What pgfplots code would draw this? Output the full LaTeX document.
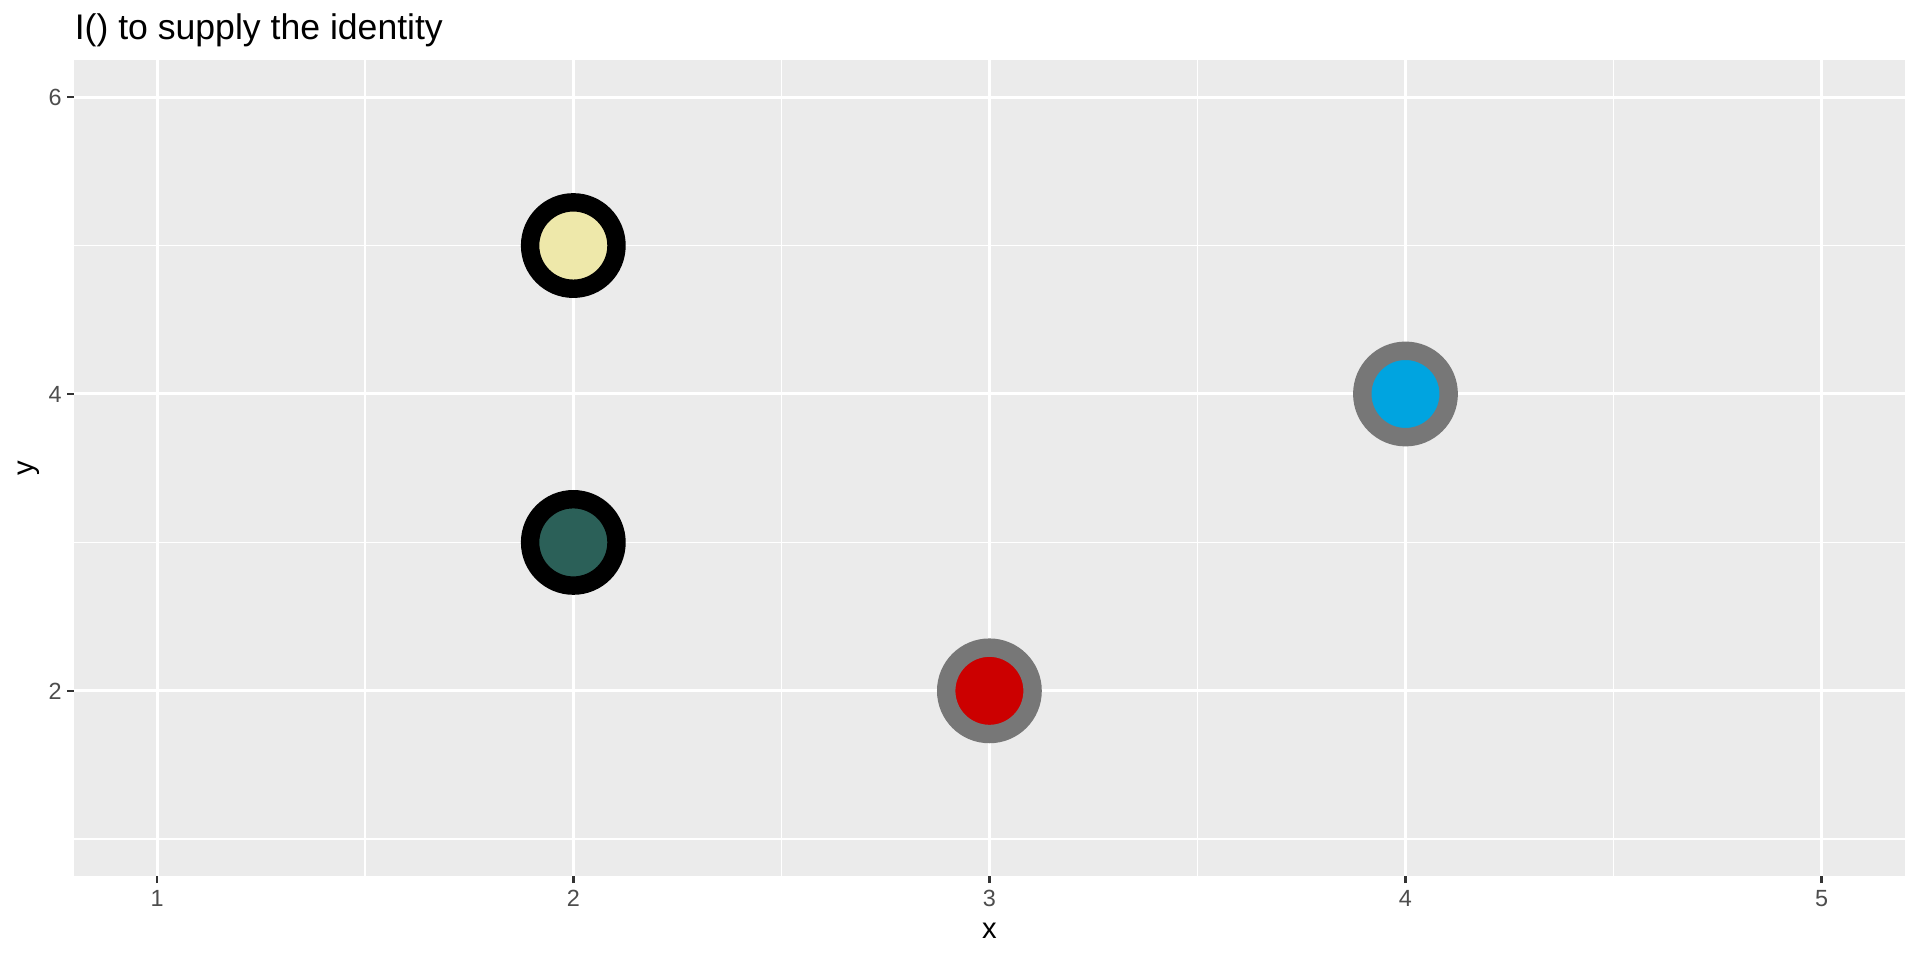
\documentclass[border=0pt]{standalone}
\usepackage{pgfplots}
\pgfplotsset{compat=1.18}
\usepackage{fontspec}
\setmainfont{Liberation Sans}
\definecolor{panelbg}{HTML}{EBEBEB}
\definecolor{ticklab}{HTML}{4D4D4D}
\definecolor{tickcol}{HTML}{333333}
\definecolor{cyellow}{HTML}{EEE8AA}
\definecolor{cteal}{HTML}{2B6058}
\definecolor{cred}{HTML}{CC0000}
\definecolor{cblue}{HTML}{00A4E0}
\definecolor{cgrey}{HTML}{777777}
\begin{document}
\begin{tikzpicture}
\useasboundingbox (0,0) rectangle (480pt,240pt);
\begin{axis}[
  at={(18.5pt,20.9pt)}, anchor=south west,
  scale only axis, width=457.7pt, height=204.1pt,
  xmin=0.8, xmax=5.2, ymin=0.75, ymax=6.25,
  axis background/.style={fill=panelbg},
  axis line style={draw=none},
  xtick={1,2,3,4,5}, xticklabels={1,2,3,4,5},
  ytick={2,4,6}, yticklabels={2,4,6},
  minor xtick={1.5,2.5,3.5,4.5}, minor ytick={1,3,5},
  xtick pos=bottom, ytick pos=left,
  tick align=outside,
  major tick length=1.7pt, minor tick length=0pt,
  tick style={color=tickcol, line width=0.6pt},
  grid=both,
  major grid style={white, line width=0.75pt},
  minor grid style={white, line width=0.4pt},
  tick label style={font=\fontsize{5.85pt}{7pt}\selectfont, text=ticklab},
  xticklabel style={inner sep=0pt, anchor=north, yshift=-1.5pt},
  yticklabel style={inner sep=0pt, anchor=east, xshift=-1.2pt},
  xlabel={x}, ylabel={y},
  label style={font=\fontsize{7.3pt}{9pt}\selectfont},
  xlabel style={at={(axis description cs:0.5,-0.067)}, anchor=center, inner sep=0pt},
  ylabel style={at={(axis description cs:-0.0249,0.5)}, anchor=center, inner sep=0pt},
  clip=false,
]
\addplot[only marks, mark=*, mark size=10.8pt, mark options={draw=black, line width=4.6pt, fill=cyellow}] coordinates {(2,5)};
\addplot[only marks, mark=*, mark size=10.8pt, mark options={draw=black, line width=4.6pt, fill=cteal}] coordinates {(2,3)};
\addplot[only marks, mark=*, mark size=10.8pt, mark options={draw=cgrey, line width=4.6pt, fill=cred}] coordinates {(3,2)};
\addplot[only marks, mark=*, mark size=10.8pt, mark options={draw=cgrey, line width=4.6pt, fill=cblue}] coordinates {(4,4)};
\node[anchor=base west, inner sep=0pt, font=\fontsize{8.9pt}{10pt}\selectfont] at ([yshift=5.2pt]rel axis cs:0,1) {I() to supply the identity};
\end{axis}
\end{tikzpicture}
\end{document}
